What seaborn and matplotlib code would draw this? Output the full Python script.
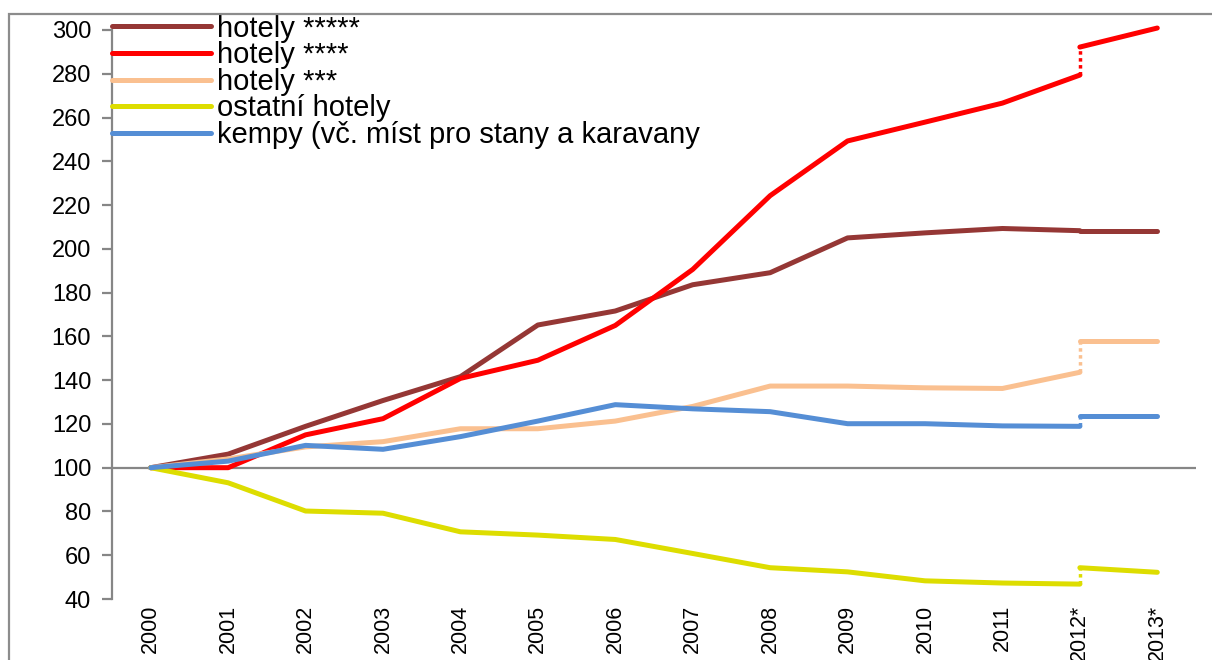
import numpy as np
import pandas as pd
import seaborn as sns
import matplotlib.pyplot as plt
from matplotlib.patches import Rectangle

years = ['2000', '2001', '2002', '2003', '2004', '2005', '2006', '2007',
         '2008', '2009', '2010', '2011', '2012*', '2013*']
labels = ['hotely *****', 'hotely ****', 'hotely ***', 'ostatní hotely',
          'kempy (vč. míst pro stany a karavany']
colors = ['#953735', '#FF0000', '#FAC090', '#DDDD00', '#558ED5']

# old methodology 2000 - 2012*
h5 = [100, 106.2, 118.9, 130.7, 141.6, 165.2, 171.6, 183.6, 189.1, 205.0, 207.3, 209.3, 208.3]
h4 = [100, 100, 115, 122.4, 140.8, 149.1, 165, 190.6, 224.3, 249.3, 257.9, 266.6, 279.4]
h3 = [100, 104, 109.5, 111.9, 117.8, 117.8, 121.3, 128, 137.3, 137.3, 136.5, 136.2, 143.6]
ost = [100, 93.1, 80.2, 79.2, 70.7, 69.2, 67.2, 60.8, 54.3, 52.4, 48.3, 47.3, 46.8]
kem = [100, 103, 110.2, 108.4, 114.2, 121.3, 128.8, 126.9, 125.6, 120.1, 120.1, 119.1, 118.9]
# new methodology 2012* - 2013*
h5_new = [208.3, 208.3]
h4_new = [292.2, 300.9]
h3_new = [157.7, 157.7]
ost_new = [54.3, 52.2]
kem_new = [123.4, 123.4]

old = [h5, h4, h3, ost, kem]
new = [h5_new, h4_new, h3_new, ost_new, kem_new]

rows = []
for lab, vals in zip(labels, old):
    for i, v in enumerate(vals):
        rows.append((lab, i, v))
df_old = pd.DataFrame(rows, columns=['rada', 'pos', 'hodnota'])
rows = []
for lab, vals in zip(labels, new):
    for i, v in enumerate(vals):
        rows.append((lab, 12 + i, v))
df_new = pd.DataFrame(rows, columns=['rada', 'pos', 'hodnota'])

sns.set_style('white')
plt.rcParams['font.family'] = ['Liberation Sans', 'DejaVu Sans']
plt.rcParams['text.color'] = 'black'
plt.rcParams['xtick.color'] = 'black'
plt.rcParams['ytick.color'] = 'black'

fig = plt.figure(figsize=(12.12, 6.6), dpi=100)
ax = fig.add_axes([112 / 1212, 1 - 599 / 660, (1196 - 112) / 1212, (599 - 30) / 660])

gray = '#868686'
ax.axhline(100, color=gray, lw=1.6, zorder=1)

pal = dict(zip(labels, colors))
sns.lineplot(data=df_old, x='pos', y='hodnota', hue='rada', hue_order=labels,
             palette=pal, lw=3.6, ax=ax, zorder=3, solid_capstyle='round', clip_on=False)
handles, labs = ax.get_legend_handles_labels()
sns.lineplot(data=df_new, x='pos', y='hodnota', hue='rada', hue_order=labels,
             palette=pal, lw=3.6, ax=ax, zorder=3, legend=False,
             solid_capstyle='round', clip_on=False)
# dotted joins between the two methodologies
for c, o, n in zip(colors, old, new):
    ax.plot([12, 12], [o[-1], n[0]], color=c, lw=2.5, ls=(0, (1, 1)), zorder=3)

ax.set_xlim(-0.5, 13.5)
ax.set_ylim(40, 300)
ax.set_yticks(range(40, 301, 20))
ax.set_xticks(range(len(years)))
ax.set_xticklabels(years, rotation=90, fontsize=15.5)
ax.tick_params(axis='y', labelsize=17, length=7, width=1.6, color=gray,
               labelcolor='black', pad=8, left=True)
ax.tick_params(axis='x', length=0, pad=4, labelcolor='black')
ax.set_xlabel('')
ax.set_ylabel('')
for s in ['top', 'right', 'bottom']:
    ax.spines[s].set_visible(False)
ax.spines['left'].set_color(gray)
ax.spines['left'].set_linewidth(1.6)

leg = ax.legend(handles, labs, loc='upper left', bbox_to_anchor=(0, 1.027),
                frameon=False, fontsize=21, handlelength=3.4, handletextpad=0.2,
                labelspacing=-0.05, borderpad=0, borderaxespad=0)
for ln in leg.get_lines():
    ln.set_linewidth(3.6)

fig.patches.append(Rectangle((9 / 1212, -0.1), 1.2, (660 - 14) / 660 + 0.1,
                             transform=fig.transFigure, fill=False,
                             edgecolor='#8c8c8c', lw=1.6, clip_on=False))

fig.savefig('out.png', dpi=100)
